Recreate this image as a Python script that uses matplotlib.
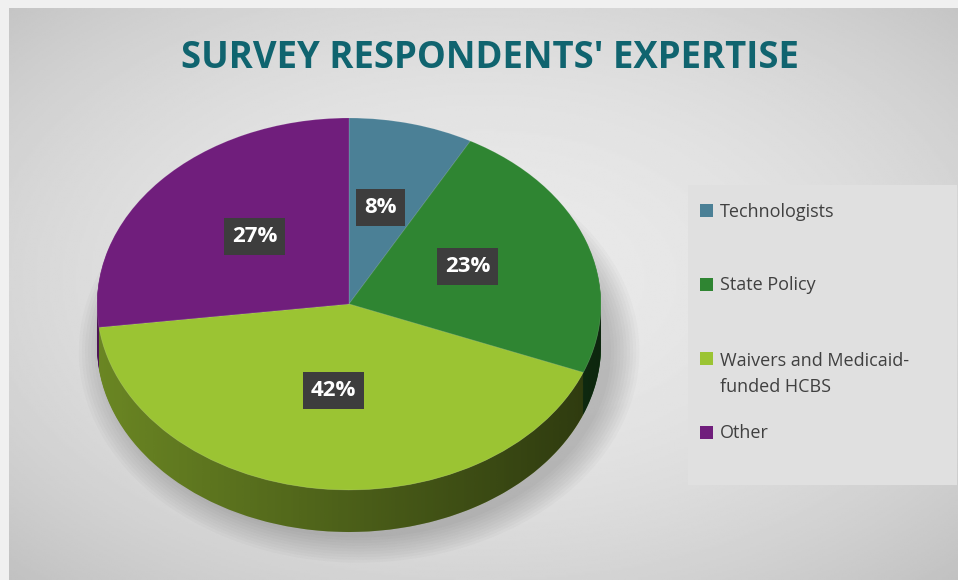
import numpy as np
import matplotlib
matplotlib.use("Agg")
import matplotlib.pyplot as plt
from matplotlib.patches import PathPatch, Ellipse, Rectangle
from matplotlib.path import Path
from matplotlib.colors import to_rgb, LinearSegmentedColormap

# data
categories = ["Technologists", "State Policy", "Waivers and Medicaid-\nfunded HCBS", "Other"]
shares = [8, 23, 42, 27]
colors = ["#4B8096", "#2F8532", "#9BC433", "#701E7C"]

W, H = 958, 580
fig = plt.figure(figsize=(W / 100, H / 100), dpi=100, facecolor="#f0f0f0")


def rect(x0, y0, x1, y1):
    # pixel box (top-left origin) -> figure fraction rect
    return [x0 / W, 1 - y1 / H, (x1 - x0) / W, (y1 - y0) / H]


# background with a soft radial gradient
bg = fig.add_axes(rect(9, 8, W, H))
bg.set_axis_off()
yy, xx = np.mgrid[-1:1:300j, -1:1:500j]
shade = 0.915 - 0.075 * (xx ** 2 + (yy + 0.05) ** 2)
bg.imshow(shade, cmap="gray", vmin=0, vmax=1, aspect="auto", extent=(0, 1, 0, 1))
bg.set_xlim(0, 1)
bg.set_ylim(0, 1)

fig.text(490 / W, 1 - 58 / H, "SURVEY RESPONDENTS' EXPERTISE", ha="center", va="center",
         fontsize=26.3, fontweight="bold", color="#10646F", family="Open Sans")

# pie axes: unit radius -> 252 px wide, 186 px tall
cx, cy, rx, ry = 349, 304, 252, 186
x0, x1, y0, y1 = 60, 660, 90, 575
ax = fig.add_axes(rect(x0, y0, x1, y1))
ax.set_facecolor("none")
depth = 42 / ry

# soft shadow under the pie
for i in range(10):
    ax.add_patch(Ellipse((0.04, -depth - 0.03), 2.0 + 0.025 * i, 2.0 + 0.03 * i,
                         color="black", alpha=0.018, lw=0, zorder=0))

# side wall: stacked darker pies
dark = [tuple(c * 0.72 for c in to_rgb(col)) for col in colors]
n = 40
for k in range(n, 0, -1):
    ax.pie(shares, colors=dark, startangle=90, counterclock=False,
           center=(0, -depth * k / n), radius=1,
           wedgeprops=dict(linewidth=0, zorder=1))

# left-to-right shading over the side wall
t = np.linspace(np.pi, 2 * np.pi, 200)
top_edge = np.column_stack([np.cos(t), np.sin(t)])
bot_edge = np.column_stack([np.cos(t[::-1]), np.sin(t[::-1]) - depth])
side = PathPatch(Path(np.vstack([top_edge, bot_edge])), transform=ax.transData,
                 facecolor="none", edgecolor="none")
ax.add_patch(side)
shadow_cmap = LinearSegmentedColormap.from_list("sh", [(0, 0, 0, 0.0), (0, 0, 0, 1.0)])
im = ax.imshow(np.linspace(0.05, 0.6, 256)[None, :], cmap=shadow_cmap, vmin=0, vmax=1,
               extent=(-1, 1, -1 - depth, 0.2), aspect="auto", zorder=2)
im.set_clip_path(side)

# top face
wedges, texts, autotexts = ax.pie(
    shares, colors=colors, startangle=90, counterclock=False, radius=1,
    autopct="%.0f%%", pctdistance=0.5,
    wedgeprops=dict(linewidth=0.6, edgecolor=(1, 1, 1, 0.15), zorder=3),
    textprops=dict(color="white", fontsize=16, fontweight="bold", family="Open Sans"))
for w in wedges:
    w.set_zorder(3)
for at in autotexts:
    at.set_zorder(5)
    px, py = at.get_position()
    at.set_position((px, py + 6 / ry))  # perspective lift
    at.set_bbox(dict(boxstyle="square,pad=0.36", fc="#3d3d3d", ec="none"))

ax.set_aspect("auto")
ax.set_xlim(-(cx - x0) / rx, (x1 - cx) / rx)
ax.set_ylim(-(y1 - cy) / ry, (cy - y0) / ry)
ax.set_axis_off()

# legend panel
lg = fig.add_axes(rect(688, 185, 957, 485))
lg.set_facecolor("#e0e0e0")
for s in lg.spines.values():
    s.set_visible(False)
lg.set_xticks([])
lg.set_yticks([])
for i, (cat, col) in enumerate(zip(categories, colors)):
    ymid = 210 + 74 * i
    extra = 27 * cat.count("\n")
    fig.patches.append(Rectangle(
        (700 / W, 1 - (ymid + 7) / H), 13 / W, 13 / H, transform=fig.transFigure,
        facecolor=col, edgecolor="none", zorder=5))
    fig.text(720 / W, 1 - (ymid + 6.5 + extra) / H, cat, ha="left", va="baseline",
             fontsize=13, color="#404040", family="Open Sans", linespacing=1.55)

fig.savefig("out.png", dpi=100, facecolor=fig.get_facecolor())
